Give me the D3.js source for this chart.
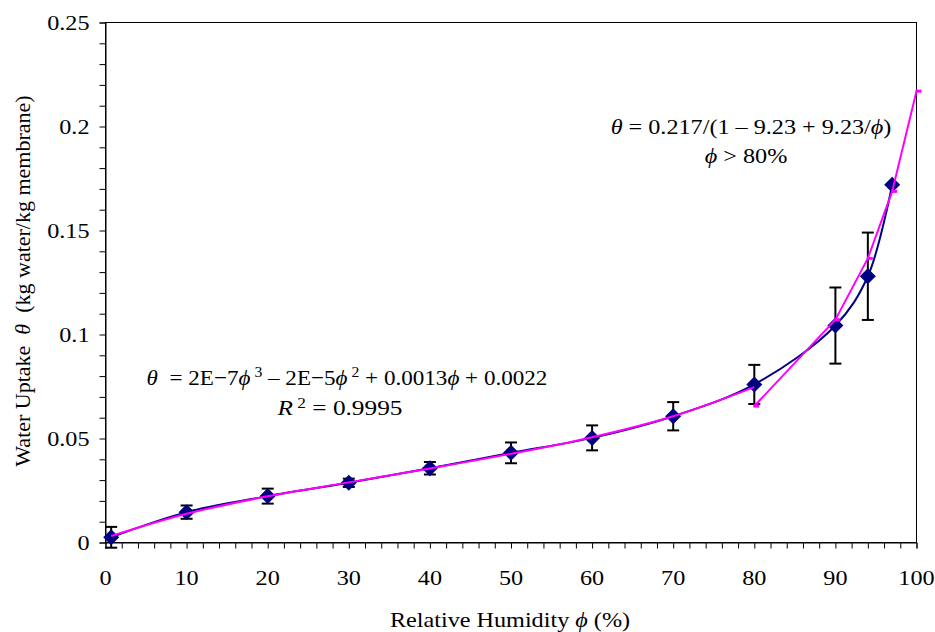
<!DOCTYPE html>
<html>
<head>
<meta charset="utf-8">
<script src="https://cdn.jsdelivr.net/npm/d3@7"></script>
<style>
  html, body { margin: 0; padding: 0; background: #fff; }
  svg { display: block; font-family: "Liberation Serif", "Times New Roman", serif; }
  text { white-space: pre; }
</style>
</head>
<body>
<svg id="chart" width="935" height="632"></svg>
<script>
// ---- data ----
const xTickValues = [0, 10, 20, 30, 40, 50, 60, 70, 80, 90, 100];
const yTickValues = [0, 0.05, 0.1, 0.15, 0.2, 0.25];
const yTickLabels = ["0", "0.05", "0.1", "0.15", "0.2", "0.25"];

// measured points (blue diamonds) with error bars
const humidity = [0.7, 10, 20, 30, 40, 50, 60, 70, 80, 90, 94, 97];
const uptake   = [0.0025, 0.0146, 0.0223, 0.0287, 0.0357, 0.0431, 0.0503, 0.0607, 0.0760, 0.1043, 0.1280, 0.1720];
const uptakeErr = [0.0050, 0.0032, 0.0036, 0.0020, 0.0030, 0.0050, 0.0060, 0.0068, 0.0094, 0.0183, 0.0210, 0.0000];

// polynomial fit curve (magenta)
const fitLowRH = [0.7, 10, 20, 30, 40, 50, 60, 70, 80];
const fitLowTheta = [0.0031, 0.0138, 0.0222, 0.0289, 0.0356, 0.0426, 0.0506, 0.0607, 0.0747];

// high humidity fit (magenta, with dash markers)
const fitHighRH = [80, 90, 94, 97, 100];
const fitHighTheta = [0.0656, 0.1071, 0.1366, 0.1688, 0.2170];

// ---- layout ----
const svg = d3.select("#chart");
const mLeft = 105.5, mRight = 916.5, mTop = 22.5, mBottom = 542.5;
const FS = 22, SX = 1.1; // font size and horizontal stretch of the original

const x = d3.scaleLinear().domain([0, 100]).range([mLeft, mRight]);
const y = d3.scaleLinear().domain([0, 0.25]).range([mBottom, mTop]);

const blue = "#000080", magenta = "#FF00FF";

function label(px, py, anchor, sx = SX) {
  return svg.append("g").attr("transform", `translate(${px},${py}) scale(${sx},1)`)
    .append("text").attr("text-anchor", anchor).attr("font-size", FS);
}

// plot frame
svg.append("rect")
  .attr("x", mLeft).attr("y", mTop)
  .attr("width", mRight - mLeft).attr("height", mBottom - mTop)
  .attr("fill", "none").attr("stroke", "#000").attr("stroke-width", 1);

// y axis
const yAxis = d3.axisLeft(y)
  .tickValues(d3.range(0, 0.2501, 0.01))
  .tickSize(6)
  .tickFormat(() => "");
const gy = svg.append("g").attr("transform", `translate(${mLeft},0)`).call(yAxis);
gy.select(".domain").attr("stroke", "#000");
gy.selectAll(".tick line").attr("stroke", "#000");

yTickValues.forEach((v, i) => {
  label(mLeft - 16, y(v) + 7.5, "end").text(yTickLabels[i]);
});

// x axis
const xAxis = d3.axisBottom(x)
  .tickValues(d3.range(0, 100.01, 2))
  .tickSize(6)
  .tickFormat(() => "");
const gx = svg.append("g").attr("transform", `translate(0,${mBottom})`).call(xAxis);
gx.select(".domain").attr("stroke", "#000");
gx.selectAll(".tick line").attr("stroke", "#000");

xTickValues.forEach(v => {
  label(x(v), 585, "middle").text(v);
});

// axis titles
const xt = label(510, 627, "middle");
xt.append("tspan").text("Relative Humidity ");
xt.append("tspan").attr("font-style", "italic").text("\u03D5");
xt.append("tspan").text(" (%)");

const yt = svg.append("text")
  .attr("transform", "translate(30,281) rotate(-90)")
  .attr("text-anchor", "middle")
  .attr("font-size", FS);
yt.append("tspan").text("Water Uptake  ");
yt.append("tspan").attr("font-style", "italic").text("\u03B8");
yt.append("tspan").text("  (kg water/kg membrane)");

// ---- series ----
const pts = humidity.map((h, i) => ({ h, t: uptake[i], e: uptakeErr[i] }));

// blue smooth line through data
svg.append("path")
  .datum(pts)
  .attr("fill", "none")
  .attr("stroke", blue)
  .attr("stroke-width", 2)
  .attr("d", d3.line().x(d => x(d.h)).y(d => y(d.t)).curve(d3.curveCatmullRom.alpha(0.5)));

// error bars
const eb = svg.append("g").attr("stroke", "#000").attr("stroke-width", 2);
pts.filter(d => d.e > 0).forEach(d => {
  eb.append("line").attr("x1", x(d.h)).attr("x2", x(d.h)).attr("y1", y(d.t - d.e)).attr("y2", y(d.t + d.e));
  eb.append("line").attr("x1", x(d.h) - 6).attr("x2", x(d.h) + 6).attr("y1", y(d.t - d.e)).attr("y2", y(d.t - d.e));
  eb.append("line").attr("x1", x(d.h) - 6).attr("x2", x(d.h) + 6).attr("y1", y(d.t + d.e)).attr("y2", y(d.t + d.e));
});

// diamonds
svg.append("g").selectAll("path")
  .data(pts)
  .join("path")
  .attr("transform", d => `translate(${x(d.h)},${y(d.t)})`)
  .attr("d", "M0,-8L8,0L0,8L-8,0Z")
  .attr("fill", blue);

// magenta polynomial fit
const lowFit = fitLowRH.map((h, i) => ({ h, t: fitLowTheta[i] }));
svg.append("path")
  .datum(lowFit)
  .attr("fill", "none")
  .attr("stroke", magenta)
  .attr("stroke-width", 2)
  .attr("d", d3.line().x(d => x(d.h)).y(d => y(d.t)).curve(d3.curveCatmullRom.alpha(0.5)));

// magenta high-humidity fit
const highFit = fitHighRH.map((h, i) => ({ h, t: fitHighTheta[i] }));
svg.append("path")
  .datum(highFit)
  .attr("fill", "none")
  .attr("stroke", magenta)
  .attr("stroke-width", 2)
  .attr("d", d3.line().x(d => x(d.h)).y(d => y(d.t)));
svg.append("g").selectAll("rect")
  .data(highFit)
  .join("rect")
  .attr("x", d => x(d.h) - 1)
  .attr("y", d => y(d.t) - 1.5)
  .attr("width", 6).attr("height", 3)
  .attr("fill", magenta);

// ---- annotations ----
function eq(g, parts) {
  parts.forEach(p => {
    const ts = g.append("tspan").text(p.t);
    if (p.i) ts.attr("font-style", "italic");
    if (p.sup) ts.attr("baseline-shift", "super").attr("font-size", 15);
  });
}
const eq1 = label(347, 385, "middle", 1.05);
eq(eq1, [
  { t: "\u03B8", i: true }, { t: "  = 2E\u22127" }, { t: "\u03D5", i: true }, { t: " 3", sup: true },
  { t: " \u2013 2E\u22125" }, { t: "\u03D5", i: true }, { t: " 2", sup: true },
  { t: " + 0.0013" }, { t: "\u03D5", i: true }, { t: " + 0.0022" }
]);
const eq2 = label(340, 415, "middle", 1.15);
eq(eq2, [{ t: "R", i: true }, { t: " 2", sup: true }, { t: " = 0.9995" }]);

const eq3 = label(751, 134, "middle");
eq(eq3, [{ t: "\u03B8", i: true }, { t: " = 0.217/(1 \u2013 9.23 + 9.23/" }, { t: "\u03D5", i: true }, { t: ")" }]);
const eq4 = label(746, 163, "middle");
eq(eq4, [{ t: "\u03D5", i: true }, { t: " > 80%" }]);
</script>
</body>
</html>
